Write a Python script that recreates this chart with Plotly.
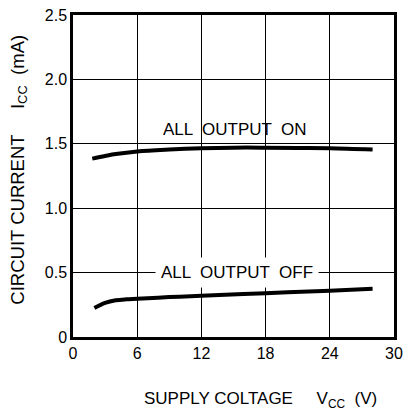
import plotly.graph_objects as go

on_x = [1.8, 3, 4, 6, 9, 12, 15, 18, 21, 24, 28]
on_y = [1.385, 1.405, 1.42, 1.44, 1.455, 1.465, 1.47, 1.47, 1.468, 1.465, 1.455]
off_x = [2, 3, 4, 5, 6, 9, 12, 18, 24, 28]
off_y = [0.225, 0.265, 0.285, 0.293, 0.297, 0.31, 0.32, 0.34, 0.36, 0.375]
x_ticks = [0, 6, 12, 18, 24, 30]
y_ticks = [0, 0.5, 1.0, 1.5, 2.0, 2.5]
y_ticktext = ["0", "0.5", "1.0", "1.5", "2.0", "2.5"]

FONT = "Liberation Sans, Arial, Helvetica"

fig = go.Figure()
fig.add_trace(go.Scatter(x=on_x, y=on_y, mode="lines", line=dict(color="black", width=4, shape="spline"), showlegend=False))
fig.add_trace(go.Scatter(x=off_x, y=off_y, mode="lines", line=dict(color="black", width=4, shape="spline"), showlegend=False))

fig.add_annotation(x=15.1, y=1.61, text="ALL  OUTPUT  ON", showarrow=False,
                   font=dict(family=FONT, size=17, color="black"))
fig.add_annotation(x=15.3, y=0.503, text="ALL  OUTPUT  OFF", showarrow=False, bgcolor="white", borderpad=5,
                   font=dict(family=FONT, size=17, color="black"))

# axis titles
fig.add_annotation(xref="paper", yref="paper", x=0.2134, y=-0.195, xanchor="left", yanchor="middle",
                   text="SUPPLY COLTAGE     V<sub>CC</sub>  (V)", showarrow=False,
                   font=dict(family=FONT, size=17, color="black"))
fig.add_annotation(xref="paper", yref="paper", x=-0.171, y=0.52, xanchor="center", yanchor="middle",
                   textangle=-90, text="CIRCUIT CURRENT     I<sub>CC</sub>  (mA)", showarrow=False,
                   font=dict(family=FONT, size=18.5, color="black"))

fig.update_layout(
    width=410, height=413,
    margin=dict(l=73, r=7, t=13, b=76),
    paper_bgcolor="white", plot_bgcolor="white",
    font=dict(family=FONT, size=16, color="black"),
    xaxis=dict(range=[0, 30], tickvals=x_ticks, showgrid=True, gridcolor="black", gridwidth=1,
               showline=True, linecolor="black", linewidth=2.5, mirror=True, zeroline=False,
               ticks="", ticklen=0, ticklabeloverflow="allow"),
    yaxis=dict(range=[0, 2.5], tickvals=y_ticks, ticktext=y_ticktext, showgrid=True, gridcolor="black", gridwidth=1,
               showline=True, linecolor="black", linewidth=2.5, mirror=True, zeroline=False,
               ticks="", ticklen=0),
)

fig.write_html("out.html", config={"displayModeBar": False},
               post_script="document.body.style.margin='0px';")
